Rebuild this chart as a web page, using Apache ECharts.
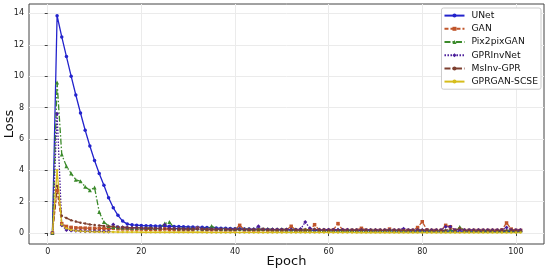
<!DOCTYPE html>
<html>
<head>
<meta charset="utf-8">
<script src="https://cdn.jsdelivr.net/npm/echarts@6/dist/echarts.min.js"></script>
<style>
  html, body { margin: 0; padding: 0; background: #fff; }
  #loss-chart { width: 550px; height: 273px; }
</style>
</head>
<body>
<div id="loss-chart"></div>
<script>
  // epochs 1..101
  const epochs = Array.from({length: 101}, (_, i) => i + 1);
  const xTicks = [0, 20, 40, 60, 80, 100];
  const yTicks = [0, 2, 4, 6, 8, 10, 12, 14];

  const unet = [0, 13.85, 12.5, 11.25, 10.0, 8.8, 7.65, 6.55, 5.55, 4.62, 3.8, 3.04, 2.25, 1.61, 1.13, 0.76, 0.57, 0.52, 0.5, 0.48,
    0.47, 0.46, 0.45, 0.44, 0.44, 0.43, 0.42, 0.41, 0.4, 0.39,
    0.38, 0.37, 0.36, 0.35, 0.34, 0.32, 0.31, 0.3, 0.29, 0.28,
    0.27, 0.26, 0.25, 0.24, 0.24, 0.23, 0.22, 0.22, 0.21, 0.2,
    0.2, 0.19, 0.19, 0.18, 0.18, 0.18, 0.17, 0.17, 0.17, 0.16,
    0.16, 0.16, 0.16, 0.15, 0.15, 0.15, 0.15, 0.15, 0.14, 0.14,
    0.14, 0.14, 0.14, 0.14, 0.13, 0.13, 0.13, 0.13, 0.13, 0.13,
    0.13, 0.12, 0.12, 0.12, 0.12, 0.12, 0.12, 0.12, 0.12, 0.12,
    0.11, 0.11, 0.11, 0.11, 0.11, 0.11, 0.11, 0.11, 0.11, 0.11, 0.11];

  const gan = [0, 2.7, 0.6, 0.42, 0.36, 0.33, 0.32, 0.31, 0.3, 0.3, 0.29, 0.29, 0.28, 0.3, 0.27, 0.26, 0.26, 0.25, 0.25, 0.25,
    0.24, 0.24, 0.24, 0.23, 0.26, 0.23, 0.23, 0.22, 0.22, 0.22,
    0.22, 0.3, 0.22, 0.21, 0.21, 0.21, 0.21, 0.2, 0.2, 0.2,
    0.49, 0.2, 0.2, 0.19, 0.19, 0.22, 0.19, 0.19, 0.19, 0.19,
    0.2, 0.43, 0.18, 0.18, 0.18, 0.2, 0.53, 0.18, 0.18, 0.18,
    0.2, 0.6, 0.18, 0.18, 0.18, 0.18, 0.3, 0.18, 0.17, 0.17,
    0.17, 0.17, 0.25, 0.17, 0.17, 0.17, 0.17, 0.17, 0.35, 0.72,
    0.2, 0.17, 0.17, 0.17, 0.49, 0.4, 0.17, 0.25, 0.17, 0.17,
    0.17, 0.17, 0.17, 0.17, 0.17, 0.17, 0.2, 0.64, 0.25, 0.17, 0.17];

  const pix2pix = [0, 9.6, 5.0, 4.25, 3.8, 3.4, 3.3, 2.95, 2.72, 2.9, 1.34, 0.7, 0.45, 0.38, 0.36, 0.35, 0.35, 0.34, 0.34, 0.33,
    0.33, 0.33, 0.32, 0.35, 0.6, 0.7, 0.32, 0.31, 0.31, 0.3,
    0.3, 0.3, 0.29, 0.29, 0.45, 0.29, 0.28, 0.28, 0.27, 0.27,
    0.27, 0.26, 0.26, 0.26, 0.25, 0.25, 0.25, 0.24, 0.24, 0.24,
    0.23, 0.23, 0.23, 0.23, 0.22, 0.22, 0.22, 0.22, 0.21, 0.21,
    0.21, 0.21, 0.2, 0.2, 0.2, 0.2, 0.2, 0.19, 0.19, 0.19,
    0.19, 0.19, 0.19, 0.18, 0.18, 0.18, 0.18, 0.18, 0.18, 0.18,
    0.18, 0.17, 0.17, 0.17, 0.17, 0.17, 0.17, 0.38, 0.17, 0.17,
    0.17, 0.17, 0.16, 0.16, 0.16, 0.16, 0.16, 0.16, 0.16, 0.16, 0.16];

  const gprInvNet = [0, 7.6, 0.5, 0.2, 0.16, 0.14, 0.13, 0.12, 0.12, 0.11, 0.11, 0.1, 0.1, 0.55, 0.38, 0.36, 0.35, 0.34, 0.33, 0.32,
    0.31, 0.3, 0.3, 0.3, 0.53, 0.3, 0.29, 0.28, 0.28, 0.27,
    0.27, 0.26, 0.26, 0.26, 0.25, 0.25, 0.25, 0.24, 0.24, 0.24,
    0.24, 0.23, 0.23, 0.23, 0.43, 0.23, 0.22, 0.22, 0.22, 0.22,
    0.22, 0.22, 0.21, 0.25, 0.7, 0.3, 0.21, 0.21, 0.21, 0.21,
    0.21, 0.21, 0.21, 0.21, 0.2, 0.2, 0.2, 0.2, 0.2, 0.2,
    0.2, 0.2, 0.2, 0.2, 0.2, 0.28, 0.2, 0.2, 0.2, 0.2,
    0.2, 0.2, 0.2, 0.2, 0.4, 0.4, 0.2, 0.2, 0.2, 0.2,
    0.2, 0.2, 0.2, 0.2, 0.2, 0.2, 0.2, 0.35, 0.2, 0.2, 0.2];

  const msInv = [0, 3.0, 1.1, 0.95, 0.82, 0.73, 0.66, 0.6, 0.55, 0.51, 0.48, 0.45, 0.43, 0.41, 0.39, 0.37, 0.35, 0.34, 0.33, 0.32,
    0.31, 0.3, 0.29, 0.28, 0.28, 0.27, 0.27, 0.26, 0.26, 0.25,
    0.25, 0.25, 0.24, 0.24, 0.24, 0.23, 0.23, 0.23, 0.22, 0.22,
    0.22, 0.22, 0.21, 0.21, 0.21, 0.21, 0.2, 0.2, 0.2, 0.2,
    0.2, 0.2, 0.19, 0.19, 0.19, 0.19, 0.25, 0.19, 0.19, 0.18,
    0.18, 0.18, 0.18, 0.18, 0.18, 0.18, 0.18, 0.18, 0.17, 0.17,
    0.17, 0.17, 0.17, 0.17, 0.17, 0.17, 0.17, 0.17, 0.17, 0.2,
    0.17, 0.16, 0.16, 0.16, 0.16, 0.25, 0.16, 0.3, 0.16, 0.16,
    0.16, 0.16, 0.16, 0.16, 0.16, 0.16, 0.16, 0.16, 0.16, 0.16, 0.16];

  const gprganScse = [0, 4.0, 0.55, 0.3, 0.2, 0.15, 0.12, 0.1, 0.09, 0.08, 0.08, 0.07, 0.07, 0.07, 0.06, 0.06, 0.06, 0.06, 0.06, 0.05,
    0.05, 0.05, 0.05, 0.05, 0.05, 0.05, 0.05, 0.05, 0.05, 0.05,
    0.05, 0.05, 0.05, 0.04, 0.04, 0.04, 0.04, 0.04, 0.04, 0.04,
    0.04, 0.04, 0.04, 0.04, 0.04, 0.04, 0.04, 0.04, 0.04, 0.04,
    0.04, 0.04, 0.04, 0.04, 0.04, 0.04, 0.04, 0.04, 0.04, 0.04,
    0.04, 0.04, 0.04, 0.04, 0.04, 0.03, 0.03, 0.03, 0.03, 0.03,
    0.03, 0.03, 0.03, 0.03, 0.03, 0.03, 0.03, 0.03, 0.03, 0.03,
    0.03, 0.03, 0.03, 0.03, 0.03, 0.03, 0.03, 0.03, 0.03, 0.03,
    0.03, 0.03, 0.03, 0.03, 0.03, 0.03, 0.03, 0.03, 0.03, 0.03, 0.03];

  const pair = arr => arr.map((v, i) => [epochs[i], v]);

  const chart = echarts.init(document.getElementById('loss-chart'));
  const font = 'DejaVu Sans';

  function line(name, data, color, dash, symbol, size) {
    return {
      name: name,
      type: 'line',
      data: pair(data),
      symbol: symbol,
      symbolSize: size,
      showSymbol: true,
      itemStyle: {color: color},
      lineStyle: {color: color, width: 1.3, type: dash},
      emphasis: {disabled: true},
      animation: false
    };
  }

  const option = {
    backgroundColor: '#fff',
    grid: {
      left: 29, right: 6, top: 4, bottom: 29,
      outerBoundsMode: 'none', containLabel: false,
      show: true, borderColor: '#444', borderWidth: 1, backgroundColor: 'transparent'
    },
    legend: {
      orient: 'vertical',
      right: 9, top: 8,
      padding: [2, 3, 2, 2],
      itemWidth: 20, itemHeight: 5, itemGap: 2,
      borderColor: '#ccc', borderWidth: 1, borderRadius: 2,
      backgroundColor: '#fff',
      textStyle: {fontFamily: font, fontSize: 9.2, color: '#111', lineHeight: 11.2, padding: [0, 0, 0, 2]},
      data: ['UNet', 'GAN', 'Pix2pixGAN', 'GPRInvNet', 'MsInv-GPR', 'GPRGAN-SCSE']
    },
    xAxis: {
      type: 'value', min: -4, max: 106,
      name: 'Epoch', nameLocation: 'middle', nameGap: 11, nameMoveOverlap: false,
      nameTextStyle: {fontFamily: font, fontSize: 13, color: '#111'},
      axisLine: {show: false},
      axisTick: {show: true, length: 3, customValues: xTicks, lineStyle: {color: '#444'}},
      axisLabel: {customValues: xTicks, fontFamily: font, fontSize: 8, color: '#222', margin: 4},
      splitLine: {show: true, customValues: xTicks, lineStyle: {color: '#ebebeb', width: 1}}
    },
    yAxis: {
      type: 'value', min: -0.7, max: 14.6,
      name: 'Loss', nameLocation: 'middle', nameGap: 13, nameMoveOverlap: false,
      nameTextStyle: {fontFamily: font, fontSize: 13, color: '#111'},
      axisLine: {show: false},
      axisTick: {show: true, length: 3, customValues: yTicks, lineStyle: {color: '#444'}},
      axisLabel: {customValues: yTicks, fontFamily: font, fontSize: 8, color: '#222', margin: 5},
      splitLine: {show: true, customValues: yTicks, lineStyle: {color: '#ebebeb', width: 1}}
    },
    series: [
      line('UNet', unet, '#2323cc', 'solid', 'circle', 3.5),
      line('GAN', gan, '#c0552a', [4, 2], 'rect', 3.5),
      line('Pix2pixGAN', pix2pix, '#3b8a2b', [6, 2, 1.5, 2], 'triangle', 4),
      line('GPRInvNet', gprInvNet, '#4a1d9a', [1.5, 1.5], 'diamond', 4),
      line('MsInv-GPR', msInv, '#7d3f2f', [6, 2, 1.5, 2], 'circle', 2.5),
      line('GPRGAN-SCSE', gprganScse, '#d6bd1c', 'solid', 'circle', 2.5)
    ]
  };
  chart.setOption(option);
  window.addEventListener('resize', function () {
    chart.resize();
  });
</script>
</body>
</html>
